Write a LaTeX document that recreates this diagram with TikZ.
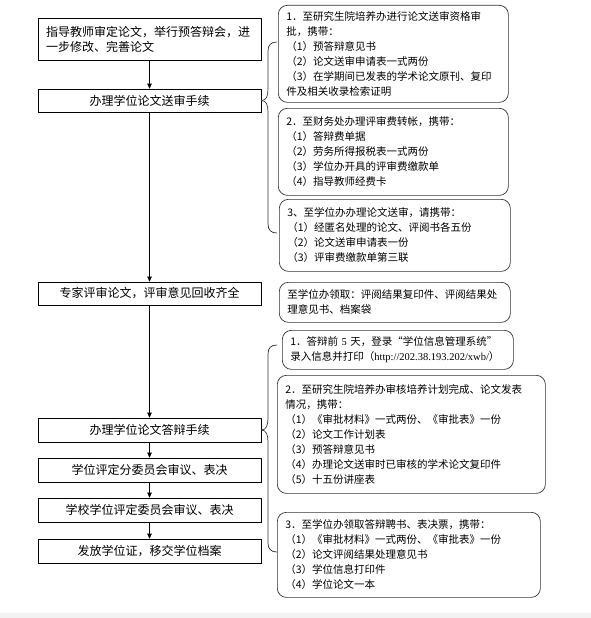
\documentclass[tikz,border=0pt]{standalone}
\usepackage{fontspec}
\setmainfont{Noto Sans CJK SC}
\newfontfamily\lat{Liberation Serif}
\usetikzlibrary{arrows.meta}
\begin{document}
\begin{tikzpicture}[x=1pt,y=-1pt,
  lbox/.style={draw=black, line width=0.7pt, minimum width=223pt, inner sep=0pt, font=\fontsize{12}{15}\selectfont},
  rbox/.style={draw=black!80, line width=0.7pt, rounded corners=9pt, anchor=north west, inner xsep=8pt, inner ysep=2pt, align=left, font=\fontsize{10.5}{15}\selectfont},
  arr/.style={-{Triangle[length=5pt,width=4.5pt]}, line width=0.7pt},
  brace/.style={line width=0.7pt, draw=black!80}]
\useasboundingbox (0,0) rectangle (591,618);
\fill[gray!10] (0,613) rectangle (591,618);

% left column
\node[lbox, minimum height=42pt, text width=207pt, align=left] (b1) at (149.5,39) {指导教师审定论文，举行预答辩会，进\\一步修改、完善论文};
\node[lbox, minimum height=23pt] (b2) at (149.5,100.5) {办理学位论文送审手续};
\node[lbox, minimum height=23pt] (b3) at (149.5,293.5) {专家评审论文，评审意见回收齐全};
\node[lbox, minimum height=24pt] (b4) at (149.5,430) {办理学位论文答辩手续};
\node[lbox, minimum height=24pt] (b5) at (149.5,470) {学位评定分委员会审议、表决};
\node[lbox, minimum height=24pt] (b6) at (149.5,510) {学校学位评定委员会审议、表决};
\node[lbox, minimum height=24pt] (b7) at (149.5,551) {发放学位证，移交学位档案};

\draw[arr] (b1.south) -- (b2.north);
\draw[arr] (b2.south) -- (b3.north);
\draw[arr] (b3.south) -- (b4.north);
\draw[arr] (b4.south) -- (b5.north);
\draw[arr] (b5.south) -- (b6.north);
\draw[arr] (b6.south) -- (b7.north);

% right column
\node[rbox, minimum width=230pt, minimum height=97pt, text width=214pt] (r1) at (278,5)
 {1．至研究生院培养办进行论文送审资格审\\批，携带：\\（1）预答辩意见书\\（2）论文送审申请表一式两份\\（3）在学期间已发表的学术论文原刊、复印\\件及相关收录检索证明};
\node[rbox, minimum width=230pt, minimum height=87pt, text width=214pt] (r2) at (278,108)
 {2．至财务处办理评审费转帐，携带：\\（1）答辩费单据\\（2）劳务所得报税表一式两份\\（3）学位办开具的评审费缴款单\\（4）指导教师经费卡};
\node[rbox, minimum width=231pt, minimum height=72pt, text width=215pt] (r3) at (279,199)
 {3、至学位办办理论文送审，请携带：\\（1）经匿名处理的论文、评阅书各五份\\（2）论文送审申请表一份\\（3）评审费缴款单第三联};
\node[rbox, minimum width=231pt, minimum height=40pt, text width=215pt] (r4) at (279,282)
 {至学位办领取：评阅结果复印件、评阅结果处\\理意见书、档案袋};
\node[rbox, minimum width=231pt, minimum height=39pt, text width=215pt] (r5) at (282,330)
 {1．答辩前 {\lat 5} 天，登录“学位信息管理系统”\\录入信息并打印（{\lat http://202.38.193.202/xwb/}）};
\node[rbox, minimum width=268pt, minimum height=118pt, text width=252pt] (r6) at (277,375)
 {2．至研究生院培养办审核培养计划完成、论文发表\\情况，携带：\\（1）《审批材料》一式两份、《审批表》一份\\（2）论文工作计划表\\（3）预答辩意见书\\（4）办理论文送审时已审核的学术论文复印件\\（5）十五份讲座表};
\node[rbox, minimum width=263pt, minimum height=85pt, text width=247pt] (r7) at (277,512)
 {3．至学位办领取答辩聘书、表决票，携带：\\（1）《审批材料》一式两份、《审批表》一份\\（2）论文评阅结果处理意见书\\（3）学位信息打印件\\（4）学位论文一本};

% braces
\draw[brace] (b2.east) .. controls +(5,0) and (268,96) .. (268,89) -- (268,51) .. controls (268,45) and (271,42) .. (277,42);
\draw[brace] (b2.east) .. controls +(5,0) and (268,105) .. (268,112) -- (268,224) .. controls (268,230) and (271,233) .. (277,233);
\draw[brace] (b4.east) .. controls +(5,0) and (268,425) .. (268,418) -- (268,354) .. controls (268,348) and (271,345) .. (277,345);
\draw[brace] (b4.east) .. controls +(5,0) and (268,435) .. (268,442) -- (268,543) .. controls (268,549) and (271,552) .. (277,552);
\end{tikzpicture}
\end{document}
